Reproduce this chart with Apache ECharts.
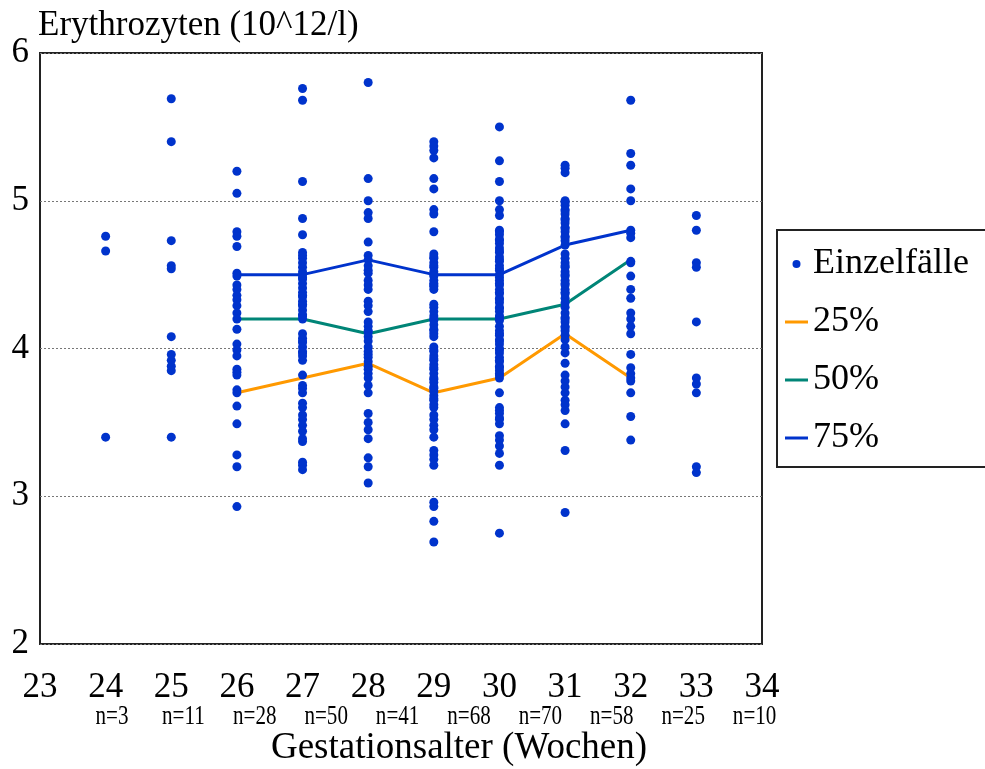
<!DOCTYPE html>
<html>
<head>
<meta charset="utf-8">
<script src="https://cdn.jsdelivr.net/npm/echarts@6/dist/echarts.min.js"></script>
<style>
  html, body { margin: 0; padding: 0; background: #fff; }
  #chart { width: 985px; height: 769px; }
</style>
</head>
<body>
<div id="chart"></div>
<script>
// Erythrocyte counts (10^12/l) of individual cases by gestational age (weeks)
const xTicks = [23, 24, 25, 26, 27, 28, 29, 30, 31, 32, 33, 34];
const yTicks = [2, 3, 4, 5, 6];
const caseWeeks = [24, 25, 26, 27, 28, 29, 30, 31, 32, 33];
const caseCounts = ['n=3', 'n=11', 'n=28', 'n=50', 'n=41', 'n=68', 'n=70', 'n=58', 'n=25', 'n=10'];

const casesW24 = [4.76, 4.66, 3.40];
const casesW25 = [5.69, 5.40, 4.73, 4.56, 4.54, 4.08, 3.96, 3.92, 3.88, 3.85, 3.40];
const casesW26 = [5.20, 5.05, 4.79, 4.76, 4.69, 4.51, 4.49, 4.43, 4.40, 4.36, 4.33, 4.29, 4.24, 4.20,
  4.13, 4.03, 3.99, 3.95, 3.86, 3.84, 3.82, 3.72, 3.70, 3.61, 3.49, 3.28, 3.20, 2.93];
const casesW27 = [5.76, 5.68, 5.13, 4.88, 4.77, 4.65, 4.63, 4.61, 4.58, 4.55, 4.52, 4.50, 4.48, 4.47,
  4.44, 4.41, 4.38, 4.36, 4.35, 4.32, 4.30, 4.29, 4.26, 4.23, 4.22, 4.20, 4.10, 4.07, 4.05, 4.04,
  4.01, 3.98, 3.97, 3.95, 3.92, 3.82, 3.75, 3.73, 3.70, 3.63, 3.60, 3.55, 3.52, 3.48, 3.44, 3.39,
  3.37, 3.23, 3.21, 3.18];
const casesW28 = [5.80, 5.15, 5.00, 4.92, 4.88, 4.72, 4.63, 4.60, 4.56, 4.53, 4.51, 4.46, 4.43, 4.40,
  4.32, 4.29, 4.25, 4.18, 4.15, 4.12, 4.11, 4.08, 4.05, 4.01, 3.98, 3.96, 3.94, 3.91, 3.88, 3.86,
  3.83, 3.80, 3.75, 3.70, 3.56, 3.50, 3.45, 3.39, 3.26, 3.20, 3.09];
const casesW29 = [5.40, 5.37, 5.34, 5.29, 5.15, 5.08, 4.94, 4.91, 4.79, 4.64, 4.62, 4.61, 4.58, 4.56,
  4.55, 4.52, 4.50, 4.49, 4.46, 4.44, 4.43, 4.42, 4.40, 4.30, 4.28, 4.25, 4.22, 4.20, 4.19, 4.16,
  4.13, 4.12, 4.10, 4.08, 4.01, 3.99, 3.98, 3.95, 3.93, 3.92, 3.89, 3.87, 3.86, 3.83, 3.80, 3.79,
  3.77, 3.74, 3.73, 3.71, 3.68, 3.66, 3.65, 3.62, 3.60, 3.55, 3.52, 3.48, 3.45, 3.40, 3.31, 3.28,
  3.25, 3.21, 2.96, 2.93, 2.83, 2.69];
const casesW30 = [5.50, 5.27, 5.13, 5.00, 4.94, 4.90, 4.80, 4.79, 4.77, 4.74, 4.73, 4.71, 4.68, 4.66,
  4.65, 4.62, 4.60, 4.59, 4.56, 4.54, 4.53, 4.50, 4.48, 4.46, 4.44, 4.43, 4.40, 4.38, 4.37, 4.34,
  4.33, 4.31, 4.28, 4.27, 4.25, 4.22, 4.21, 4.19, 4.15, 4.12, 4.10, 4.09, 4.06, 4.05, 4.03, 4.00,
  3.99, 3.97, 3.94, 3.92, 3.91, 3.88, 3.87, 3.85, 3.83, 3.82, 3.80, 3.70, 3.60, 3.58, 3.56, 3.53,
  3.52, 3.49, 3.41, 3.38, 3.34, 3.29, 3.21, 2.75];
const casesW31 = [5.24, 5.22, 5.19, 5.00, 4.99, 4.97, 4.94, 4.93, 4.91, 4.88, 4.87, 4.85, 4.82, 4.81,
  4.79, 4.76, 4.75, 4.73, 4.70, 4.64, 4.61, 4.58, 4.56, 4.55, 4.52, 4.50, 4.49, 4.46, 4.44, 4.43,
  4.40, 4.38, 4.37, 4.34, 4.31, 4.28, 4.24, 4.21, 4.20, 4.18, 4.15, 4.14, 4.12, 4.09, 4.06, 4.01,
  3.97, 3.90, 3.82, 3.78, 3.74, 3.70, 3.65, 3.62, 3.58, 3.49, 3.31, 2.89];
const casesW32 = [5.68, 5.32, 5.24, 5.08, 5.00, 4.80, 4.78, 4.75, 4.59, 4.58, 4.49, 4.40, 4.34, 4.24,
  4.20, 4.15, 4.10, 3.96, 3.87, 3.83, 3.80, 3.78, 3.70, 3.54, 3.38];
const casesW33 = [4.90, 4.80, 4.58, 4.55, 4.18, 3.80, 3.76, 3.70, 3.20, 3.16];

const casesByWeek = [casesW24, casesW25, casesW26, casesW27, casesW28, casesW29,
  casesW30, casesW31, casesW32, casesW33];

// Percentile curves
const percentileWeeks = [26, 27, 28, 29, 30, 31, 32];
const p25 = [3.7, 3.8, 3.9, 3.7, 3.8, 4.1, 3.8];
const p50 = [4.2, 4.2, 4.1, 4.2, 4.2, 4.3, 4.6];
const p75 = [4.5, 4.5, 4.6, 4.5, 4.5, 4.7, 4.8];

const FONT = '"Liberation Serif", "Times New Roman", serif';
const BLUE = '#0033cc';
const ORANGE = '#ff9900';
const TEAL = '#008577';
// flat bar used as legend key for the percentile lines
const LINE_KEY = 'path://M0 0H23V3H0Z';

const scatterData = [];
casesByWeek.forEach((vals, i) => vals.forEach(v => scatterData.push([caseWeeks[i], v])));
const pair = (ys) => percentileWeeks.map((w, i) => [w, ys[i]]);

const chart = echarts.init(document.getElementById('chart'), null, { renderer: 'canvas' });

const GRID = { left: 40, top: 53, width: 722, height: 591 };

const option = {
  animation: false,
  backgroundColor: '#fff',
  textStyle: { fontFamily: FONT },
  grid: Object.assign({ show: true, borderColor: '#222', borderWidth: 2, containLabel: false }, GRID),
  xAxis: {
    type: 'value',
    min: xTicks[0],
    max: xTicks[xTicks.length - 1],
    interval: 1,
    axisLine: { show: false },
    axisTick: { show: false },
    splitLine: { show: false },
    axisLabel: { color: '#000', fontSize: 35, fontFamily: FONT, margin: 26 }
  },
  yAxis: {
    type: 'value',
    min: yTicks[0],
    max: yTicks[yTicks.length - 1],
    interval: 1,
    axisLine: { show: false },
    axisTick: { show: false },
    splitLine: { show: true, lineStyle: { color: '#777', type: [2, 2], width: 1 } },
    axisLabel: { color: '#000', fontSize: 35, fontFamily: FONT, margin: 11 }
  },
  title: {
    text: 'Erythrozyten (10^12/l)',
    left: 38,
    top: 8,
    padding: 0,
    textStyle: { fontSize: 35, fontWeight: 'normal', color: '#000', fontFamily: FONT }
  },
  legend: {
    orient: 'vertical',
    left: 777,
    top: 230,
    data: [
      { name: 'Einzelfälle', icon: 'circle' },
      { name: '25%', icon: LINE_KEY },
      { name: '50%', icon: LINE_KEY },
      { name: '75%', icon: LINE_KEY }
    ],
    itemWidth: 23,
    itemHeight: 8,
    itemGap: 18,
    symbolKeepAspect: true,
    padding: [14, 40, 9, 8],
    borderColor: '#222',
    borderWidth: 2,
    backgroundColor: '#fff',
    selectedMode: false,
    textStyle: { fontSize: 36, color: '#000', fontFamily: FONT, lineHeight: 40 }
  },
  series: [
    {
      name: '25%', type: 'line', data: pair(p25), showSymbol: false, symbol: 'none', z: 2,
      lineStyle: { color: ORANGE, width: 3 }, itemStyle: { color: ORANGE }
    },
    {
      name: '50%', type: 'line', data: pair(p50), showSymbol: false, symbol: 'none', z: 2,
      lineStyle: { color: TEAL, width: 3 }, itemStyle: { color: TEAL }
    },
    {
      name: '75%', type: 'line', data: pair(p75), showSymbol: false, symbol: 'none', z: 2,
      lineStyle: { color: BLUE, width: 3 }, itemStyle: { color: BLUE }
    },
    {
      name: 'Einzelfälle', type: 'scatter', data: scatterData, symbolSize: 9, z: 3,
      itemStyle: { color: BLUE, opacity: 1 }
    }
  ]
};

chart.setOption(option);

// Case counts under the week labels, and the x-axis title
const N_LABEL_X0 = 112, N_LABEL_STEP = 71.4, N_LABEL_Y = 717;
const graphics = caseCounts.map((t, i) => ({
  type: 'text',
  x: N_LABEL_X0 + i * N_LABEL_STEP,
  y: N_LABEL_Y,
  scaleX: 0.78,
  originX: 0,
  style: { text: t, fontSize: 27, fontFamily: FONT, fill: '#000', align: 'center', verticalAlign: 'middle' }
}));
graphics.push({
  type: 'text',
  x: 459,
  y: 748,
  style: {
    text: 'Gestationsalter (Wochen)', fontSize: 37, fontFamily: FONT, fill: '#000',
    align: 'center', verticalAlign: 'middle'
  }
});
chart.setOption({ graphic: graphics });
</script>
</body>
</html>
